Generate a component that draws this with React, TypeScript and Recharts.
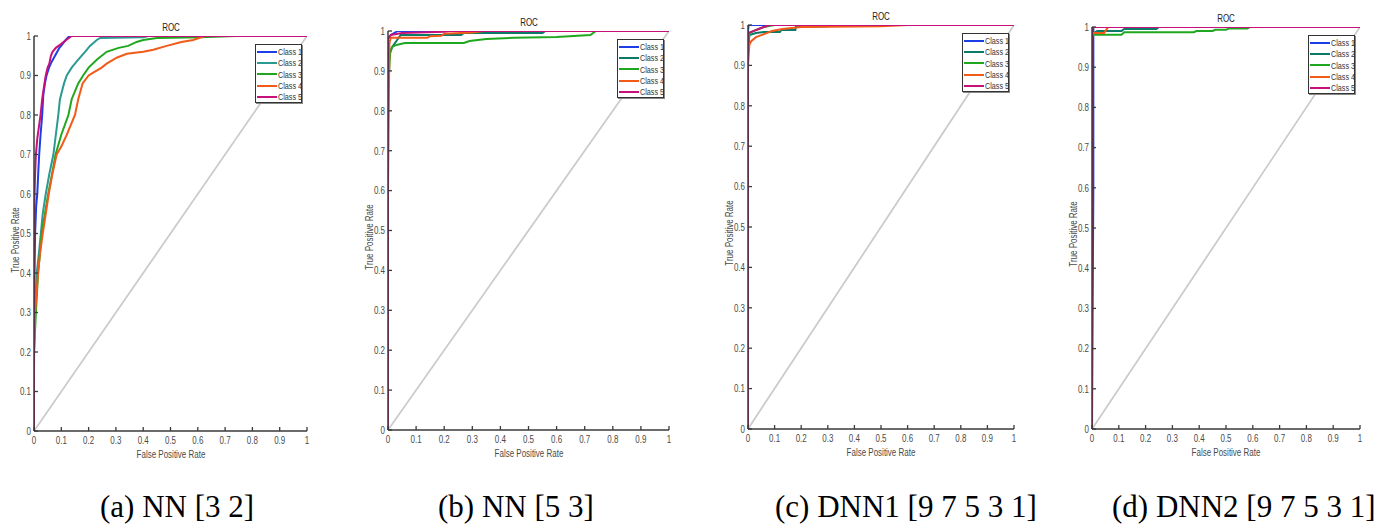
import React from 'react';
import { LineChart, Line, XAxis, YAxis, Legend } from 'recharts';

type Pt = [number, number];

const TICKS = [0, 0.1, 0.2, 0.3, 0.4, 0.5, 0.6, 0.7, 0.8, 0.9, 1];
const TICK_LABELS = ['0', '0.1', '0.2', '0.3', '0.4', '0.5', '0.6', '0.7', '0.8', '0.9', '1'];
const CLASS_NAMES = ['Class 1', 'Class 2', 'Class 3', 'Class 4', 'Class 5'];
const DIAGONAL: Pt[] = [[0, 0], [1, 1]];

// (a) NN [3 2]
const A_CLASS1: Pt[] = [[0, 0], [0, 0.25], [0.002, 0.4], [0.004, 0.5], [0.008, 0.57], [0.012, 0.6], [0.016, 0.66], [0.019, 0.7], [0.024, 0.75], [0.03, 0.8], [0.034, 0.85], [0.04, 0.88], [0.046, 0.9], [0.055, 0.92], [0.065, 0.935], [0.077, 0.95], [0.085, 0.96], [0.093, 0.97], [0.105, 0.98], [0.116, 0.99], [0.13, 1], [1, 1]];
const A_CLASS2: Pt[] = [[0, 0], [0, 0.15], [0.002, 0.3], [0.01, 0.4], [0.018, 0.45], [0.025, 0.5], [0.032, 0.55], [0.043, 0.6], [0.056, 0.65], [0.071, 0.7], [0.08, 0.75], [0.089, 0.8], [0.095, 0.84], [0.11, 0.88], [0.12, 0.9], [0.138, 0.92], [0.162, 0.94], [0.187, 0.96], [0.205, 0.975], [0.23, 0.99], [0.242, 0.995], [0.4, 0.997], [0.42, 1], [1, 1]];
const A_CLASS3: Pt[] = [[0, 0], [0, 0.2], [0.007, 0.3], [0.015, 0.4], [0.022, 0.45], [0.028, 0.5], [0.04, 0.55], [0.052, 0.6], [0.066, 0.65], [0.079, 0.7], [0.1, 0.75], [0.126, 0.8], [0.138, 0.84], [0.162, 0.88], [0.18, 0.9], [0.2, 0.92], [0.23, 0.94], [0.266, 0.96], [0.31, 0.97], [0.345, 0.975], [0.376, 0.985], [0.4, 0.99], [0.45, 0.995], [0.61, 0.997], [0.74, 1], [1, 1]];
const A_CLASS4: Pt[] = [[0, 0], [0, 0.2], [0.004, 0.3], [0.015, 0.4], [0.022, 0.45], [0.032, 0.5], [0.043, 0.55], [0.054, 0.6], [0.067, 0.65], [0.083, 0.7], [0.1, 0.72], [0.12, 0.75], [0.138, 0.78], [0.15, 0.8], [0.162, 0.84], [0.178, 0.88], [0.2, 0.9], [0.223, 0.91], [0.248, 0.92], [0.266, 0.93], [0.303, 0.945], [0.34, 0.955], [0.4, 0.96], [0.437, 0.965], [0.486, 0.975], [0.54, 0.985], [0.583, 0.99], [0.626, 1], [1, 1]];
const A_CLASS5: Pt[] = [[0, 0], [0, 0.45], [0.002, 0.6], [0.004, 0.65], [0.007, 0.7], [0.012, 0.74], [0.018, 0.77], [0.024, 0.8], [0.03, 0.84], [0.034, 0.86], [0.043, 0.9], [0.05, 0.92], [0.056, 0.93], [0.062, 0.95], [0.068, 0.96], [0.08, 0.97], [0.09, 0.975], [0.1, 0.98], [0.118, 0.99], [0.138, 1], [1, 1]];

// (b) NN [5 3]
const B_CLASS1: Pt[] = [[0, 0], [0, 0.98], [0.005, 0.985], [0.01, 0.99], [0.035, 1], [1, 1]];
const B_CLASS2: Pt[] = [[0, 0], [0, 0.9], [0.005, 0.94], [0.015, 0.96], [0.03, 0.975], [0.045, 0.99], [0.26, 0.99], [0.27, 0.995], [0.55, 0.995], [0.56, 1], [1, 1]];
const B_CLASS3: Pt[] = [[0, 0], [0, 0.87], [0.004, 0.9], [0.008, 0.95], [0.015, 0.96], [0.03, 0.965], [0.06, 0.97], [0.27, 0.97], [0.29, 0.975], [0.35, 0.98], [0.45, 0.983], [0.6, 0.985], [0.72, 0.99], [0.74, 1], [1, 1]];
const B_CLASS4: Pt[] = [[0, 0], [0, 0.6], [0.005, 0.97], [0.01, 0.983], [0.14, 0.983], [0.15, 0.987], [0.19, 0.988], [0.2, 0.993], [0.3, 0.996], [0.34, 1], [1, 1]];
const B_CLASS5: Pt[] = [[0, 0], [0, 0.98], [0.01, 0.99], [0.05, 0.995], [0.2, 0.998], [0.22, 1], [1, 1]];

// (c) DNN1 [9 7 5 3 1]
const C_CLASS1: Pt[] = [[0, 0], [0, 0.985], [0.002, 1], [1, 1]];
const C_CLASS2: Pt[] = [[0, 0], [0, 0.93], [0.005, 0.975], [0.03, 0.98], [0.06, 0.9825], [0.12, 0.9825], [0.125, 0.9875], [0.178, 0.9875], [0.18, 0.995], [0.3, 0.997], [0.35, 1], [1, 1]];
const C_CLASS3: Pt[] = [[0, 0], [0, 0.93], [0.005, 0.98], [0.02, 0.985], [0.04, 0.99], [0.06, 0.995], [0.1, 1], [1, 1]];
const C_CLASS4: Pt[] = [[0, 0], [0, 0.9], [0.005, 0.95], [0.012, 0.96], [0.03, 0.97], [0.05, 0.975], [0.07, 0.98], [0.09, 0.985], [0.13, 0.99], [0.2, 0.995], [0.5, 0.997], [0.6, 1], [1, 1]];
const C_CLASS5: Pt[] = [[0, 0], [0, 0.98], [0.02, 0.985], [0.04, 0.99], [0.06, 0.995], [0.08, 1], [1, 1]];

// (d) DNN2 [9 7 5 3 1]
const D_CLASS1: Pt[] = [[0, 0], [0.005, 0.6], [0.005, 1], [1, 1]];
const D_CLASS2: Pt[] = [[0, 0], [0, 0.98], [0.005, 0.985], [0.02, 0.99], [0.11, 0.99], [0.12, 0.995], [0.24, 0.995], [0.25, 1], [1, 1]];
const D_CLASS3: Pt[] = [[0, 0], [0, 0.83], [0, 0.98], [0.005, 0.981], [0.11, 0.981], [0.12, 0.987], [0.38, 0.987], [0.39, 0.99], [0.45, 0.99], [0.46, 0.993], [0.5, 0.993], [0.51, 0.996], [0.58, 0.996], [0.59, 1], [1, 1]];
const D_CLASS4: Pt[] = [[0, 0], [0, 0.98], [0.005, 0.985], [0.045, 0.985], [0.06, 1], [1, 1]];
const D_CLASS5: Pt[] = [[0, 0], [0, 1], [1, 1]];

const PANEL_TITLES = ['ROC', 'ROC', 'ROC', 'ROC'];
const X_LABEL = 'False Positive Rate';
const Y_LABEL = 'True Positive Rate';
const CAPTIONS = ['(a) NN [3 2]', '(b) NN [5 3]', '(c) DNN1 [9 7 5 3 1]', '(d) DNN2 [9 7 5 3 1]'];
const PANEL_CURVES: Pt[][][] = [
  [A_CLASS1, A_CLASS2, A_CLASS3, A_CLASS4, A_CLASS5],
  [B_CLASS1, B_CLASS2, B_CLASS3, B_CLASS4, B_CLASS5],
  [C_CLASS1, C_CLASS2, C_CLASS3, C_CLASS4, C_CLASS5],
  [D_CLASS1, D_CLASS2, D_CLASS3, D_CLASS4, D_CLASS5],
];

// layout (styles only)
const GEOM = [
  { L: 34, R: 307, T: 36, B: 431, capX: 100 },
  { L: 388, R: 669, T: 31, B: 430, capX: 438 },
  { L: 748, R: 1014, T: 25, B: 429, capX: 775 },
  { L: 1092, R: 1360, T: 27, B: 429, capX: 1112 },
];
const COLORS_A = ['#1c3ee6', '#2a9a92', '#1fa81f', '#f25a18', '#c8107a'];
const COLORS_B = ['#1c3ee6', '#0b7a68', '#1fa81f', '#f25a18', '#c8107a'];
const AXIS = '#3a3a3a';
const FONT = '"Liberation Sans", Arial, sans-serif';
const SQ = 0.76;
const YW = 30;
const XH = 32;

const fmt = (v: number) => TICK_LABELS[Math.round(v * 10)] ?? String(v);

const XTick = (props: any) => {
  const { x, y, payload } = props;
  return (
    <g>
      <line x1={x} x2={x} y1={y} y2={y - 4} stroke={AXIS} strokeWidth={1.3} />
      <text
        transform={`translate(${x} ${y + 13}) scale(${SQ} 1)`}
        textAnchor="middle"
        fontSize={10.5}
        fill="#4a4a4a"
        fontFamily={FONT}
      >
        {fmt(payload.value)}
      </text>
    </g>
  );
};

const YTick = (props: any) => {
  const { x, y, payload } = props;
  return (
    <g>
      <line x1={x} x2={x + 4} y1={y} y2={y} stroke={AXIS} strokeWidth={1.3} />
      <text
        transform={`translate(${x - 3} ${y + 3.8}) scale(${SQ} 1)`}
        textAnchor="end"
        fontSize={10.5}
        fill="#4a4a4a"
        fontFamily={FONT}
      >
        {fmt(payload.value)}
      </text>
    </g>
  );
};

const LegendBox = (props: any) => {
  const items = (props.payload || []).filter((p: any) => CLASS_NAMES.includes(p.value));
  return (
    <div
      style={{
        width: 43,
        height: 56,
        border: '1.5px solid #333',
        boxShadow: '1px 1px 0 #888',
        background: '#fff',
        padding: '1px 1px 0 1px',
      }}
    >
      {items.map((it: any) => (
        <div key={it.value} style={{ display: 'flex', alignItems: 'center', height: 11.3 }}>
          <span style={{ display: 'inline-block', width: 20, height: 2, background: it.color, flex: 'none' }} />
          <span
            style={{
              display: 'inline-block',
              fontSize: 9.5,
              fontFamily: FONT,
              color: '#333',
              lineHeight: '11px',
              whiteSpace: 'nowrap',
              transform: `scaleX(${SQ})`,
              transformOrigin: 'left center',
              marginLeft: 0.5,
            }}
          >
            {it.value}
          </span>
        </div>
      ))}
    </div>
  );
};

const textBase: React.CSSProperties = {
  position: 'absolute',
  fontFamily: FONT,
  whiteSpace: 'nowrap',
  lineHeight: 1,
};

const Panel = ({ idx }: { idx: number }) => {
  const g = GEOM[idx];
  const colors = idx === 0 ? COLORS_A : COLORS_B;
  const CL = g.L - YW;
  const width = YW + (g.R - g.L) + 10;
  const height = g.B + XH;
  const curves = PANEL_CURVES[idx];
  const legendLeft = g.R - 5 - 47 - CL;
  return (
    <>
      <div style={{ position: 'absolute', left: CL, top: 0 }}>
        <LineChart width={width} height={height} margin={{ top: g.T, right: 10, bottom: 0, left: 0 }}>
          <XAxis
            type="number"
            dataKey="x"
            domain={[0, 1]}
            ticks={TICKS}
            interval={0}
            height={XH}
            tickSize={0}
            tickMargin={0}
            tickLine={false}
            tick={<XTick />}
            axisLine={{ stroke: AXIS, strokeWidth: 1.5 }}
            allowDataOverflow
          />
          <YAxis
            type="number"
            domain={[0, 1]}
            ticks={TICKS}
            interval={0}
            width={YW}
            tickSize={0}
            tickMargin={0}
            tickLine={false}
            tick={<YTick />}
            axisLine={{ stroke: AXIS, strokeWidth: 1.5 }}
            allowDataOverflow
          />
          <Line
            data={DIAGONAL.map(([x, y]) => ({ x, y }))}
            dataKey="y"
            type="linear"
            stroke="#cbcbcb"
            strokeWidth={1.8}
            dot={false}
            activeDot={false}
            legendType="none"
            isAnimationActive={false}
          />
          {curves.map((c, i) => (
            <Line
              key={CLASS_NAMES[i]}
              name={CLASS_NAMES[i]}
              data={c.map(([x, y]) => ({ x, y }))}
              dataKey="y"
              type="linear"
              stroke={colors[i]}
              strokeWidth={2}
              dot={false}
              activeDot={false}
              isAnimationActive={false}
            />
          ))}
          <Legend
            layout="vertical"
            align="center"
            verticalAlign="middle"
            content={<LegendBox />}
            wrapperStyle={{ left: legendLeft, top: g.T + 8, width: 'auto', height: 'auto' }}
          />
        </LineChart>
      </div>
      <div
        style={{
          ...textBase,
          left: (g.L + g.R) / 2,
          top: g.T - 9,
          transform: `translate(-50%, -50%) scaleX(${SQ})`,
          fontSize: 10.5,
          color: '#222',
        }}
      >
        {PANEL_TITLES[idx]}
      </div>
      <div
        style={{
          ...textBase,
          left: (g.L + g.R) / 2,
          top: g.B + 23,
          transform: `translate(-50%, -50%) scaleX(${SQ})`,
          fontSize: 10.5,
          color: '#4a4a4a',
        }}
      >
        {X_LABEL}
      </div>
      <div
        style={{
          ...textBase,
          left: g.L - 19,
          top: (g.T + g.B) / 2 + 6,
          transform: `translate(-50%, -50%) rotate(-90deg) scaleX(${SQ})`,
          fontSize: 10.5,
          color: '#4a4a4a',
        }}
      >
        {Y_LABEL}
      </div>
      <div
        style={{
          position: 'absolute',
          left: g.capX,
          top: 491,
          fontFamily: '"Liberation Serif", "Times New Roman", serif',
          fontSize: 31,
          lineHeight: '31px',
          color: '#000',
          whiteSpace: 'nowrap',
        }}
      >
        {CAPTIONS[idx]}
      </div>
    </>
  );
};

export default function App() {
  return (
    <div style={{ position: 'absolute', left: 0, top: 0, width: 1374, height: 530, background: '#fff', overflow: 'hidden' }}>
      {[0, 1, 2, 3].map((i) => (
        <Panel key={i} idx={i} />
      ))}
    </div>
  );
}
